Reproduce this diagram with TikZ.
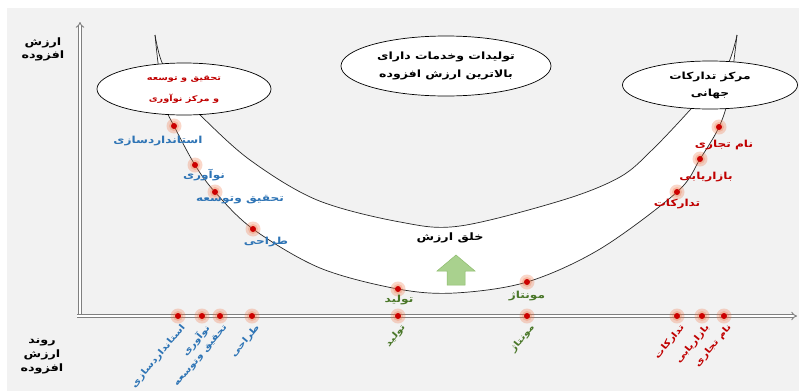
\documentclass[tikz,border=0pt]{standalone}
\usepackage{fontspec}
\newfontfamily\ar[Script=Arabic, FakeStretch=1.25]{DejaVu Sans}
\TeXXeTstate=1
\usetikzlibrary{arrows.meta,shapes.geometric}
\definecolor{bggray}{HTML}{F2F2F2}
\definecolor{txtred}{HTML}{C00000}
\definecolor{txtblue}{HTML}{2E74B5}
\definecolor{txtgreen}{HTML}{4A7729}
\definecolor{dotred}{HTML}{CC0000}
\definecolor{halocol}{HTML}{F07040}
\definecolor{axisgray}{HTML}{808080}
\definecolor{arrfill}{HTML}{A9D18E}
\definecolor{arrdraw}{HTML}{8DBB6C}
\begin{document}
\begin{tikzpicture}[x=1pt,y=-1pt,
  axisline/.style={draw=axisgray, line width=0.9pt, double=white, double distance=2pt, -{Implies}},
  curveline/.style={draw=black!85, line width=0.7pt},
  ell/.style={ellipse, draw=black, line width=0.7pt, fill=white, inner sep=0pt, align=center},
  lbl/.style={font=\ar\bfseries\fontsize{9.7}{11}\selectfont, inner sep=0pt},
  rlbl/.style={font=\ar\bfseries\fontsize{8.6}{10}\selectfont, inner sep=0pt, rotate=50, anchor=east},
  vdot/.style={circle, fill=dotred, inner sep=0pt, minimum size=6pt},
  halo/.style={fill=halocol, opacity=0.28},
]
\useasboundingbox (0,0) rectangle (799,391);
\fill[bggray] (7,8) rectangle (799,391);

% white band
\fill[white] plot[smooth,tension=0.55] coordinates {(155,35) (159,70) (166,108) (174,126) (195,165) (215,192) (253,229) (320,268) (398,289) (455,293) (527,282) (600,249) (677,192) (700,159) (719,127) (729,95) (737,35)}
  -- plot[smooth,tension=0.55] coordinates {(737,35) (725,70) (690,110) (652,150) (620,177) (563,200) (460,226) (400,222) (317,200) (250,160) (200,115) (176,90) (161,60) (155,35)} -- cycle;
\draw[curveline] plot[smooth,tension=0.55] coordinates {(155,35) (159,70) (166,108) (174,126) (195,165) (215,192) (253,229) (320,268) (398,289) (455,293) (527,282) (600,249) (677,192) (700,159) (719,127) (729,95) (737,35)};
\draw[curveline] plot[smooth,tension=0.55] coordinates {(737,35) (725,70) (690,110) (652,150) (620,177) (563,200) (460,226) (400,222) (317,200) (250,160) (200,115) (176,90) (161,60) (155,35)};

% axes
\coordinate (yb) at (80,316);
\coordinate (yt) at (80,22);
\coordinate (xb) at (77,316);
\coordinate (xe) at (797,316);
\draw[axisline] (yb) -- (yt);
\draw[axisline] (xb) -- (xe);

% ellipses
\node[ell, minimum width=174pt, minimum height=52pt, font=\ar\bfseries\fontsize{7.8}{21}\selectfont, text=txtred] (e1) at (184,89)
  {\beginR تحقیق و توسعه\endR\\\beginR و مرکز نوآوری\endR};
\node[ell, minimum width=210pt, minimum height=60pt, font=\ar\bfseries\fontsize{10}{18}\selectfont] (e2) at (446,66)
  {\beginR تولیدات وخدمات دارای\endR\\\beginR بالاترین ارزش افزوده\endR};
\node[ell, minimum width=175pt, minimum height=48pt, font=\ar\bfseries\fontsize{9.8}{17}\selectfont] (e3) at (710,85)
  {\beginR مرکز تدارکات\endR\\\beginR جهانی\endR};

% points
\coordinate (c1) at (174,126);
\coordinate (c2) at (195,165);
\coordinate (c3) at (215,192);
\coordinate (c4) at (253,229);
\coordinate (c5) at (398,289);
\coordinate (c6) at (527,282);
\coordinate (c7) at (677,192);
\coordinate (c8) at (700,159);
\coordinate (c9) at (719,127);
\coordinate (a1) at (178,316);
\coordinate (a2) at (202,316);
\coordinate (a3) at (220,316);
\coordinate (a4) at (252,316);
\coordinate (a5) at (398,316);
\coordinate (a6) at (527,316);
\coordinate (a7) at (677,316);
\coordinate (a8) at (702,316);
\coordinate (a9) at (724,316);
\foreach \p in {c1,c2,c3,c4,c5,c6,c7,c8,c9,a1,a2,a3,a4,a5,a6,a7,a8,a9} {
  \fill[halo] (\p) circle (7.5);
  \fill[halo] (\p) circle (5);
}
\foreach \p in {c1,c2,c3,c4,c5,c6,c7,c8,c9,a1,a2,a3,a4,a5,a6,a7,a8,a9}
  \node[vdot] (d\p) at (\p) {};

% curve labels
\node[lbl, text=txtblue] (l1) at (158,141) {\beginR استانداردسازی\endR};
\node[lbl, text=txtblue] (l2) at (204,175) {\beginR نوآوری\endR};
\node[lbl, text=txtblue] (l3) at (240,200) {\beginR تحقیق وتوسعه\endR};
\node[lbl, text=txtblue] (l4) at (266,242) {\beginR طراحی\endR};
\node[lbl, text=txtgreen] (l5) at (399,300) {\beginR تولید\endR};
\node[lbl, text=txtgreen] (l6) at (527,296) {\beginR مونتاژ\endR};
\node[lbl, text=txtred] (l7) at (724,145) {\beginR نام تجاری\endR};
\node[lbl, text=txtred] (l8) at (706,177) {\beginR بازاریابی\endR};
\node[lbl, text=txtred] (l9) at (677,204) {\beginR تدارکات\endR};
\node[lbl, font=\ar\bfseries\fontsize{10.2}{12}\selectfont] (l10) at (450,238) {\beginR خلق ارزش\endR};

% axis labels (rotated)
\node[rlbl, text=txtblue] (r1) at (184,326) {\beginR استانداردسازی\endR};
\node[rlbl, text=txtblue] (r2) at (208,326) {\beginR نوآوری\endR};
\node[rlbl, text=txtblue] (r3) at (226,326) {\beginR تحقیق وتوسعه\endR};
\node[rlbl, text=txtblue] (r4) at (258,326) {\beginR طراحی\endR};
\node[rlbl, text=txtgreen] (r5) at (404,326) {\beginR تولید\endR};
\node[rlbl, text=txtgreen] (r6) at (533,326) {\beginR مونتاژ\endR};
\node[rlbl, text=txtred] (r7) at (683,326) {\beginR تدارکات\endR};
\node[rlbl, text=txtred] (r8) at (708,326) {\beginR بازاریابی\endR};
\node[rlbl, text=txtred] (r9) at (730,326) {\beginR نام تجاری\endR};

% axis titles
\node[lbl, align=center, font=\ar\bfseries\fontsize{10.2}{13}\selectfont] (ty) at (43,49) {\beginR ارزش\endR\\\beginR افزوده\endR};
\node[lbl, align=center, font=\ar\bfseries\fontsize{10.2}{14}\selectfont] (tx) at (42,356) {\beginR روند\endR\\\beginR ارزش\endR\\\beginR افزوده\endR};

% green arrow
\filldraw[fill=arrfill, draw=arrdraw, line width=0.5pt] (437,271) -- (456,255) -- (475,271) -- (465,271) -- (465,285) -- (447,285) -- (447,271) -- cycle;
\end{tikzpicture}
\end{document}
